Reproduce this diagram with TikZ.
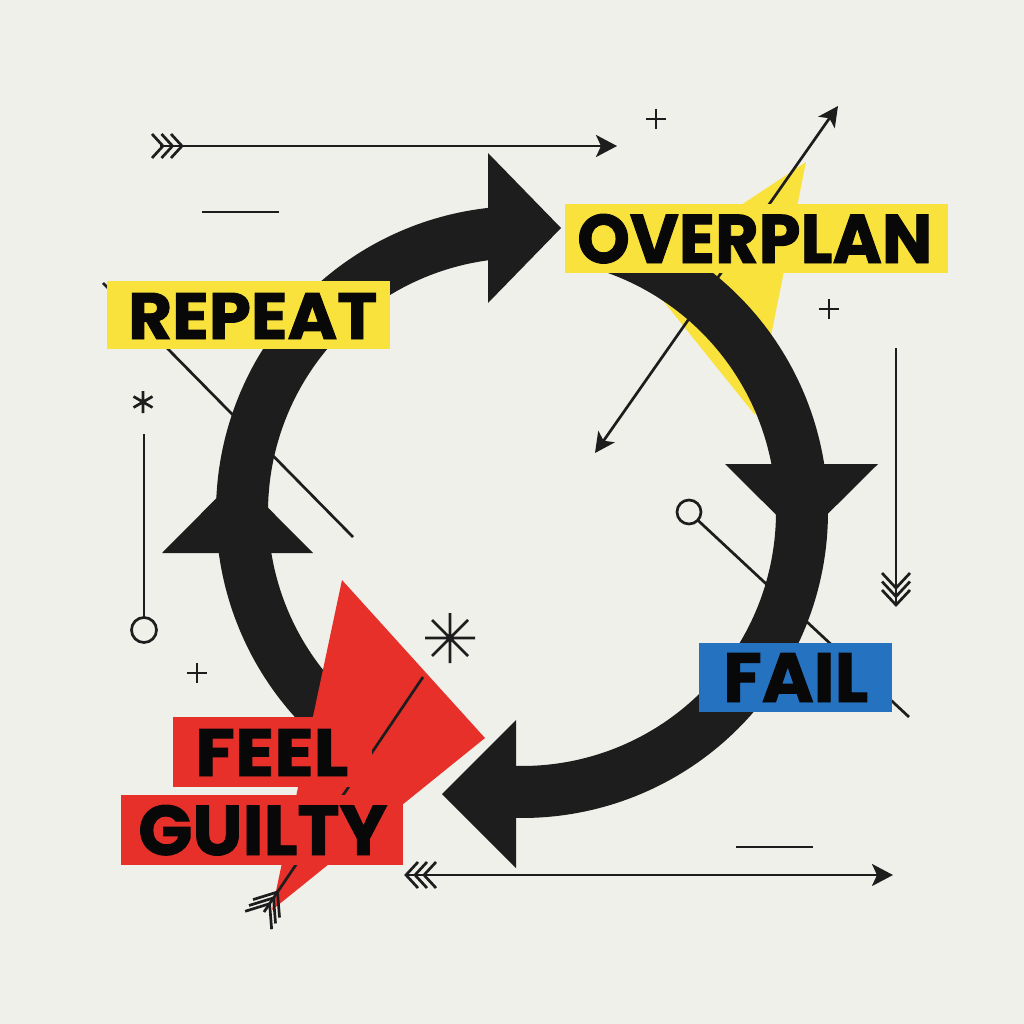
\documentclass[tikz,border=0pt]{standalone}
\usepackage{fontspec}
\usepackage{graphicx}
\newfontfamily\labelfont{Poppins}[BoldFeatures={FakeBold=1.3}]
\usetikzlibrary{arrows.meta}
\definecolor{bg}{RGB}{240,240,234}
\definecolor{ink}{RGB}{30,29,29}
\definecolor{txt}{RGB}{8,8,8}
\definecolor{ylw}{RGB}{250,226,60}
\definecolor{rd}{RGB}{232,48,42}
\definecolor{blu}{RGB}{36,114,192}
\newcommand{\chevron}[5]{% x, y, rotation, back, spread
  \begin{scope}[shift={(#1,#2)},rotate=#3]
    \draw[deco] (-#4,-#5) -- (0,0) -- (-#4,#5);
  \end{scope}}
\begin{document}
\begin{tikzpicture}[x=1pt,y=-1pt,
  deco/.style={draw=ink,line width=2.7pt},
  band/.style={draw=ink,line width=52pt},
  headfill/.style={fill=ink},
  lbl/.style={inner sep=0pt,anchor=base west,text=txt,font=\labelfont\bfseries},
  tip/.style={-{Stealth[length=21pt,width=22pt,inset=5pt]}},
  bothtips/.style={{Stealth[length=20pt,width=20pt,inset=5pt]}-{Stealth[length=20pt,width=20pt,inset=5pt]}}]
\fill[bg] (0,0) rectangle (1024,1024);
\useasboundingbox (0,0) rectangle (1024,1024);

% yellow shard behind OVERPLAN
\fill[ylw] (806,162) -- (640,272) -- (755,415) -- cycle;

% thin lines lying under the bands
\draw[deco] (103,283) -- (353,537);
\draw[deco] (689,512) circle (12);
\coordinate (cl1) at (697.8,520.2);
\coordinate (cl2) at (909,717);
\draw[deco] (cl1) -- (cl2);
\coordinate (da1) at (595,453);
\coordinate (da2) at (838,106);
\draw[deco,bothtips] (da1) -- (da2);

% cycle bands
\draw[band] plot[domain=125:264,samples=120] ({522+280*cos(\x)},{512+280*sin(\x)});
\draw[band] plot[domain=-78:91.5,samples=140] ({522+280*cos(\x)},{512+280*sin(\x)});

% arrowheads of the cycle
\fill[headfill] (488,153) -- (561,228) -- (488,303) -- cycle;
\fill[headfill] (162,553) -- (237.5,477) -- (313,553) -- cycle;
\fill[headfill] (725,464) -- (801.5,540) -- (878,464) -- cycle;
\fill[headfill] (516,720) -- (442,794) -- (516,868) -- cycle;

% red shard
\fill[rd] (342,580) -- (485,738) -- (272,910) -- cycle;
\coordinate (ra1) at (423,677);
\coordinate (ra2) at (264,912);
\draw[deco] (ra1) -- (ra2);
\chevron{269.6}{903.7}{55.9}{20}{16}
\chevron{273.5}{897.9}{55.9}{20}{16}
\chevron{277.5}{892}{55.9}{20}{16}

% label boxes
\fill[ylw] (107,281) rectangle (390,349);
\node[lbl] (repeat) at (128,339) {\resizebox{249pt}{46pt}{REPEAT}};
\fill[ylw] (565,204) rectangle (948,273);
\node[lbl] (overplan) at (577,263) {\resizebox{355pt}{49pt}{OVERPLAN}};
\fill[blu] (699,643) rectangle (892,712);
\node[lbl] (fail) at (723,702) {\resizebox{145pt}{49pt}{FAIL}};
\fill[rd] (173,717) rectangle (372,787);
\node[lbl] (feel) at (195,776) {\resizebox{153pt}{47pt}{FEEL}};
\fill[rd] (121,795) rectangle (403,865);
\node[lbl] (guilty) at (138,855) {\resizebox{249pt}{50pt}{GUILTY}};

% top arrow with fletching
\coordinate (ta1) at (160,146);
\coordinate (ta2) at (617,146);
\draw[deco,tip] (ta1) -- (ta2);
\chevron{163}{146}{0}{11}{12}
\chevron{172.5}{146}{0}{11}{12}
\chevron{182}{146}{0}{11}{12}

% bottom arrow with fletching
\coordinate (ba1) at (406,875);
\coordinate (ba2) at (893,875);
\draw[deco,tip] (ba1) -- (ba2);
\chevron{406}{875}{180}{12}{13}
\chevron{415}{875}{180}{12}{13}
\chevron{424}{875}{180}{12}{13}

% right vertical line with fletching
\coordinate (va1) at (896,348);
\coordinate (va2) at (896,605);
\draw[deco] (va1) -- (va2);
\chevron{896}{588}{-90}{15}{14}
\chevron{896}{596.5}{-90}{15}{14}
\chevron{896}{605}{-90}{15}{14}

% left vertical line with ring
\coordinate (lv1) at (144,434);
\coordinate (lv2) at (144,617.5);
\draw[deco] (lv1) -- (lv2);
\draw[deco] (144,630) circle (12.5);

% dashes
\draw[deco] (202,212) -- (279,212);
\draw[deco] (736,847) -- (813,847);

% plus signs
\draw[deco] (646,119) -- (666,119) (656,109) -- (656,129);
\draw[deco] (819,309) -- (839,309) (829,299) -- (829,319);
\draw[deco] (187,673) -- (207,673) (197,663) -- (197,683);

% small asterisk
\draw[deco] (143,391) -- (143,413)
  (133.5,396.5) -- (152.5,407.5) (133.5,407.5) -- (152.5,396.5);
% big asterisk
\draw[deco] (425,638) -- (475,638) (450,613) -- (450,663)
  (432,620) -- (468,656) (432,656) -- (468,620);
\end{tikzpicture}
\end{document}
